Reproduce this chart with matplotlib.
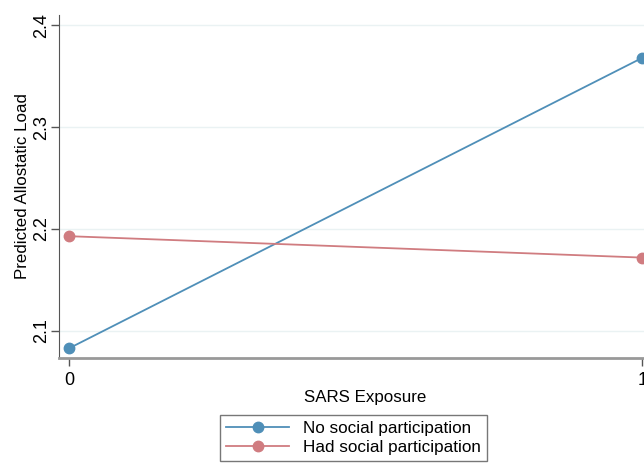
import matplotlib
matplotlib.use("Agg")
import matplotlib.pyplot as plt
from matplotlib.lines import Line2D

plt.rcParams['font.family'] = ['Liberation Sans', 'DejaVu Sans']

# predicted margins by SARS exposure
exposure = [0, 1]
no_participation = [2.083, 2.368]
had_participation = [2.193, 2.172]
yticks = [2.1, 2.2, 2.3, 2.4]

blue = '#4f8fb8'
red = '#d07c80'

W, H = 644, 468
fig = plt.figure(figsize=(W / 100, H / 100), dpi=100)
# axes run past the right edge of the canvas
ax = fig.add_axes([59 / W, 1 - 358 / H, (671 - 59) / W, (358 - 15) / H])

ax.plot(exposure, no_participation, '-o', color=blue, lw=1.3, ms=7.5, clip_on=False, zorder=3)
ax.plot(exposure, had_participation, '-o', color=red, lw=1.3, ms=7.5, clip_on=False, zorder=3)

ax.set_xlim(-0.0175, 1.05)
ax.set_ylim(2.0735, 2.41)
ax.set_xticks(exposure)
ax.set_yticks(yticks)
ax.set_yticklabels([f'{v:.1f}' for v in yticks], rotation=90, va='center')
ax.tick_params(axis='both', labelsize=13, length=6, width=1, color='#555555', pad=4)
ax.tick_params(axis='y', pad=0.5)
ax.grid(axis='y', color='#eaf2f3', lw=1)
ax.set_axisbelow(True)

for side in ('top', 'right'):
    ax.spines[side].set_visible(False)
ax.spines['left'].set_color('#555555')
ax.spines['bottom'].set_color('#999999')
ax.spines['bottom'].set_linewidth(2)

ax.set_ylabel('Predicted Allostatic Load', fontsize=12.2, labelpad=2)
ax.set_xlabel('SARS Exposure', fontsize=12.2, labelpad=1)

handles = [
    Line2D([], [], color=blue, marker='o', lw=1.3, ms=7.5),
    Line2D([], [], color=red, marker='o', lw=1.3, ms=7.5),
]
leg = fig.legend(handles, ['No social participation', 'Had social participation'],
                 loc='upper left', bbox_to_anchor=(220 / W, 1 - 415 / H),
                 borderaxespad=0, fontsize=12.3, frameon=True, fancybox=False,
                 handlelength=3.7, borderpad=0.35, labelspacing=0.25, handletextpad=0.8)
leg.get_frame().set_edgecolor('#555555')
leg.get_frame().set_linewidth(1)

fig.savefig('out.png', dpi=100)
